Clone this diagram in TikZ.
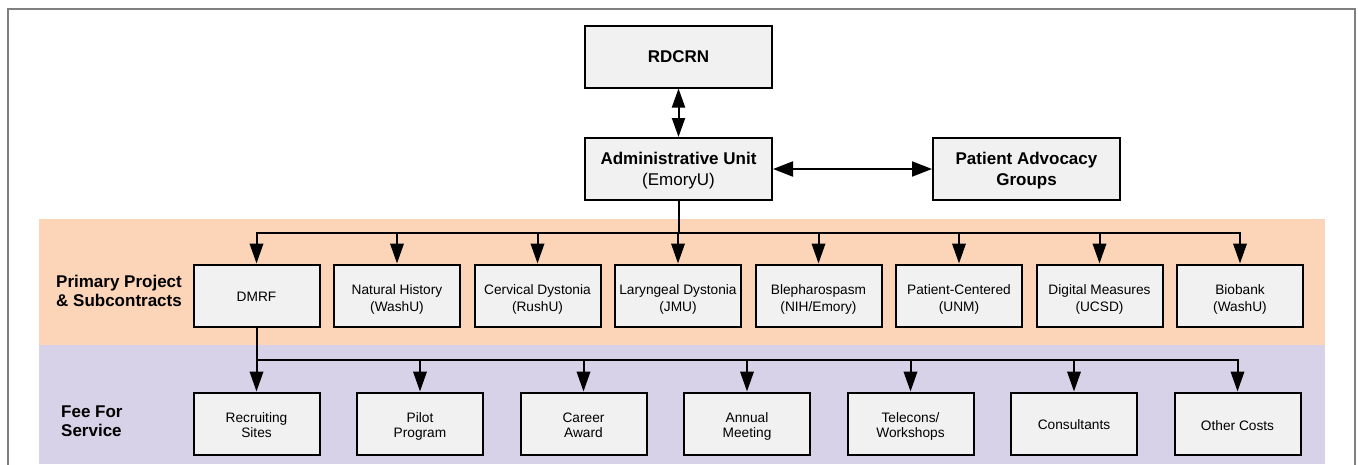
\documentclass[tikz,border=0pt]{standalone}
\usepackage{fontspec}
\setmainfont{Liberation Sans}
\usetikzlibrary{arrows.meta}
\definecolor{peach}{HTML}{FCD5B8}
\definecolor{lav}{HTML}{D7D2E7}
\definecolor{boxfill}{HTML}{F1F1F1}
\definecolor{framegray}{HTML}{808080}
\newcommand\bxtop{\rule{0pt}{\bxA}}
\newcommand\bxbot{\rule[-3pt]{0pt}{3pt}}
\begin{document}
\begin{tikzpicture}[x=1pt,y=-1pt,
  box/.style={draw=black, line width=2pt, fill=boxfill, minimum width=126pt, minimum height=62pt,
    align=center, inner sep=0pt, font=\fontsize{13.7}{\bxL}\selectfont},
  bigbox/.style={box, minimum width=187pt, font=\fontsize{17}{21}\selectfont},
  conn/.style={line width=2pt, -{Triangle[length=20pt,width=13.5pt]}},
  dconn/.style={line width=2pt, {Triangle[length=19pt,width=13pt]}-{Triangle[length=19pt,width=13pt]}},
  hconn/.style={line width=2pt, {Triangle[length=20pt,width=15pt]}-{Triangle[length=20pt,width=15pt]}},
  bandlabel/.style={anchor=west, align=left, inner sep=0pt, font=\fontsize{17}{19.5}\selectfont\bfseries}]
\useasboundingbox (0,0) rectangle (1358,464);
\fill[peach] (39,219) rectangle (1325,345);
\fill[lav] (39,345) rectangle (1325,464);
\draw[framegray, line width=2pt] (8,465) -- (8,9) -- (1355,9) -- (1355,465);

\def\bxA{15.2pt}\def\bxL{21pt}
\node[bigbox] (rdcrn) at (678.5,56.5) {\bxtop\textbf{RDCRN}\bxbot};
\node[bigbox] (admin) at (678.5,169) {\bxtop\textbf{Administrative Unit}\\(EmoryU)\bxbot};
\node[bigbox] (pag) at (1026.5,169) {\bxtop\textbf{Patient Advocacy}\\\textbf{Groups}\bxbot};

\node[bandlabel] (lab1) at (56,291) {Primary Project\\\& Subcontracts};
\node[bandlabel] (lab2) at (61,421) {Fee For\\Service};

\def\bxA{18.6pt}\def\bxL{16.7pt}
\node[box] (p1) at (256.5,295.5) {\rule{0pt}{14pt}DMRF\bxbot};
\node[box] (p2) at (397,295.5) {\bxtop Natural History\\(WashU)\bxbot};
\node[box] (p3) at (537.5,295.5) {\bxtop Cervical Dystonia\\(RushU)\bxbot};
\node[box] (p4) at (678,295.5) {\bxtop Laryngeal Dystonia\\(JMU)\bxbot};
\node[box] (p5) at (818.5,295.5) {\bxtop Blepharospasm\\(NIH/Emory)\bxbot};
\node[box] (p6) at (959,295.5) {\bxtop Patient-Centered\\(UNM)\bxbot};
\node[box] (p7) at (1099.5,295.5) {\bxtop Digital Measures\\(UCSD)\bxbot};
\node[box] (p8) at (1240,295.5) {\bxtop Biobank\\(WashU)\bxbot};

\def\bxA{15.8pt}\def\bxL{15.5pt}
\node[box] (f1) at (256.5,423.5) {\bxtop Recruiting\\Sites\bxbot};
\node[box] (f2) at (420,423.5) {\bxtop Pilot\\Program\bxbot};
\node[box] (f3) at (583.5,423.5) {\bxtop Career\\Award\bxbot};
\node[box] (f4) at (747,423.5) {\bxtop Annual\\Meeting\bxbot};
\node[box] (f5) at (910.5,423.5) {\bxtop Telecons/\\Workshops\bxbot};
\node[box] (f6) at (1074,423.5) {\bxtop Consultants\bxbot};
\node[box] (f7) at (1237.5,423.5) {\rule{0pt}{16.8pt}Other Costs\bxbot};

\draw[dconn] (rdcrn) -- (admin);
\draw[hconn] (admin) -- (pag);

\coordinate (bus) at (678.5,233);
\foreach \i in {1,...,8} { \draw[conn] (admin.south) -- (bus) -| (p\i.north); }
\coordinate (bus2) at (256.5,359.5);
\foreach \i in {1,...,7} { \draw[conn] (p1.south) -- (bus2) -| (f\i.north); }
\end{tikzpicture}
\end{document}
